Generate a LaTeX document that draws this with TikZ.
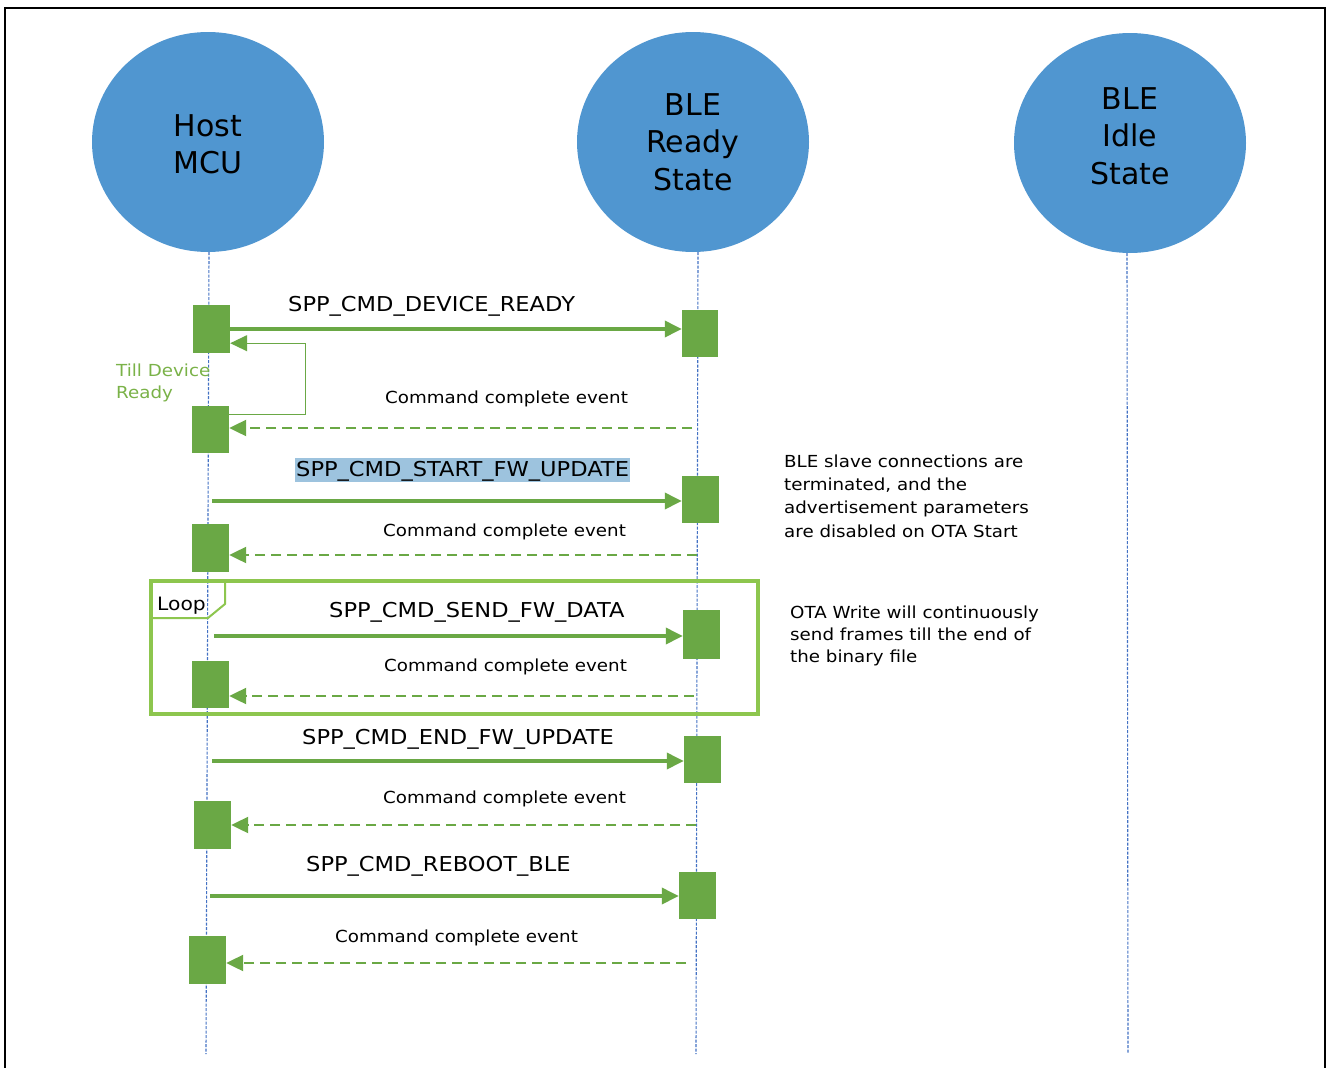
\documentclass[tikz,border=0pt]{standalone}
\usepackage{fontspec}
\setmainfont{DejaVu Sans}
\newfontfamily\widefont{DejaVu Sans}[FakeStretch=1.1]
\usetikzlibrary{shapes.geometric,arrows.meta,calc}
\definecolor{actblue}{RGB}{80,150,208}
\definecolor{boxgreen}{RGB}{106,168,69}
\definecolor{loopgreen}{RGB}{141,198,78}
\definecolor{lifeblue}{RGB}{68,114,196}
\definecolor{hlblue}{RGB}{157,195,222}
\definecolor{notegreen}{RGB}{122,178,72}
\tikzset{
  actor/.style={ellipse, fill=actblue, minimum width=232pt, minimum height=220pt, inner sep=0pt},
  actortext/.style={anchor=north, align=center, inner sep=0pt, font=\fontsize{30}{37.5}\selectfont},
  actbox/.style={fill=boxgreen, minimum width=37pt, minimum height=47pt, inner sep=0pt},
  life/.style={draw=lifeblue, line width=1.1pt, dash pattern=on 3pt off 1.5pt},
  tip/.style={-{Triangle[length=17pt,width=16pt]}},
  msg/.style={draw=boxgreen, line width=3.5pt, tip},
  ret/.style={draw=boxgreen, line width=2.2pt, dash pattern=on 10pt off 6pt, tip},
  selfl/.style={draw=boxgreen, line width=1.2pt, tip},
  msglabel/.style={anchor=base west, inner sep=0pt, font=\widefont\fontsize{20.5}{24}\selectfont},
  evlabel/.style={anchor=base west, inner sep=0pt, font=\widefont\fontsize{16.6}{22}\selectfont},
  note/.style={anchor=north west, inner sep=0pt, align=left, font=\widefont\fontsize{16.6}{23.3}\selectfont},
}
\begin{document}
\begin{tikzpicture}[x=1pt,y=-1pt]
\useasboundingbox (0,0) rectangle (1326,1068);
\fill[white] (0,0) rectangle (1326,1068);
\draw[line width=2pt] (5,1068) -- (5,8) -- (1325,8) -- (1325,1068);

% actors
\node[actor] (host) at (208,142) {};
\node[actor] (ready) at (693,142) {};
\node[actor] (idle) at (1130,143) {};
\node[actortext] (hosttxt) at (208,114) {Host\\MCU};
\node[actortext] (readytxt) at (693,93) {BLE\\Ready\\State};
\node[actortext] (idletxt) at (1130,87) {BLE\\Idle\\State};

% lifelines
\coordinate (hostend) at (206,1054);
\coordinate (readyend) at (696,1054);
\coordinate (idleend) at (1128,1054);
\draw[life] ([xshift=1pt]host.south) -- (hostend);
\draw[life] ([xshift=5pt]ready.south) -- (readyend);
\draw[life] ([xshift=-3pt]idle.south) -- (idleend);

% loop frame
\draw[loopgreen, line width=4.5pt] (151,581) rectangle (758,714);
\draw[loopgreen, line width=2pt] (151,618) -- (208,618) -- (225,604) -- (225,581);
\node[anchor=base west, inner sep=0pt, font=\widefont\fontsize{18.4}{22}\selectfont] (looplbl) at (157,610) {Loop};

% activation boxes
\node[actbox, minimum height=48pt] (h1) at (211.5,329) {};
\node[actbox] (h2) at (210.5,429.5) {};
\node[actbox, minimum height=48pt] (h3) at (210.5,548) {};
\node[actbox] (h4) at (210.5,684.5) {};
\node[actbox, minimum height=48pt] (h5) at (212.5,825) {};
\node[actbox, minimum height=48pt] (h6) at (207.5,960) {};
\node[actbox, minimum width=36pt] (b1) at (700,333.5) {};
\node[actbox] (b2) at (700.5,499.5) {};
\node[actbox, minimum height=49pt] (b3) at (701.5,634.5) {};
\node[actbox] (b4) at (702.5,759.5) {};
\node[actbox] (b5) at (697.5,895.5) {};

% messages
\draw[msg] (h1.east) -- (h1.east -| b1.west);
\draw[selfl] ($(h2.north east)+(0,9)$) -- ++(76,0) |- ($(h1.south east)+(0,-10)$);
\coordinate (r2) at (692,428);
\draw[ret] (r2) -- (r2 -| h2.east);
\coordinate (s3) at (212,501);
\draw[msg] (s3) -- (s3 -| b2.west);
\coordinate (r4) at (697,555);
\draw[ret] (r4) -- (r4 -| h3.east);
\coordinate (s5) at (214,636);
\draw[msg] (s5) -- (s5 -| b3.west);
\coordinate (r6) at (694,696);
\draw[ret] (r6) -- (r6 -| h4.east);
\coordinate (s7) at (212,761);
\draw[msg] (s7) -- (s7 -| b4.west);
\coordinate (r8) at (696,825);
\draw[ret] (r8) -- (r8 -| h5.east);
\coordinate (s9) at (210,896);
\draw[msg] (s9) -- (s9 -| b5.west);
\coordinate (r10) at (686,963);
\draw[ret] (r10) -- (r10 -| h6.east);

% labels
\node[msglabel] (l1) at (288,311.5) {SPP\_CMD\_DEVICE\_READY};
\node[evlabel] (l2) at (385,403) {Command complete event};
\node[msglabel, fill=hlblue, inner xsep=1pt, inner ysep=0pt, text height=18pt, text depth=6pt] (l3) at (295,476) {SPP\_CMD\_START\_FW\_UPDATE};
\node[evlabel] (l4) at (383,536) {Command complete event};
\node[msglabel] (l5) at (329,617.5) {SPP\_CMD\_SEND\_FW\_DATA};
\node[evlabel] (l6) at (384,671) {Command complete event};
\node[msglabel] (l7) at (302,744.5) {SPP\_CMD\_END\_FW\_UPDATE};
\node[evlabel] (l8) at (383,803) {Command complete event};
\node[msglabel] (l9) at (306,871.5) {SPP\_CMD\_REBOOT\_BLE};
\node[evlabel] (l10) at (335,942.5) {Command complete event};

% notes
\node[note, text=notegreen, font=\widefont\fontsize{16.6}{22.5}\selectfont] (till) at (116,363.4) {Till Device\\Ready};
\node[note] (note1) at (784,454.4) {BLE slave connections are\\terminated, and the\\advertisement parameters\\are disabled on OTA Start};
\node[note, font=\widefont\fontsize{16.6}{22.3}\selectfont] (note2) at (790,605.4) {OTA Write will continuously\\send frames till the end of\\the binary file};
\end{tikzpicture}
\end{document}
